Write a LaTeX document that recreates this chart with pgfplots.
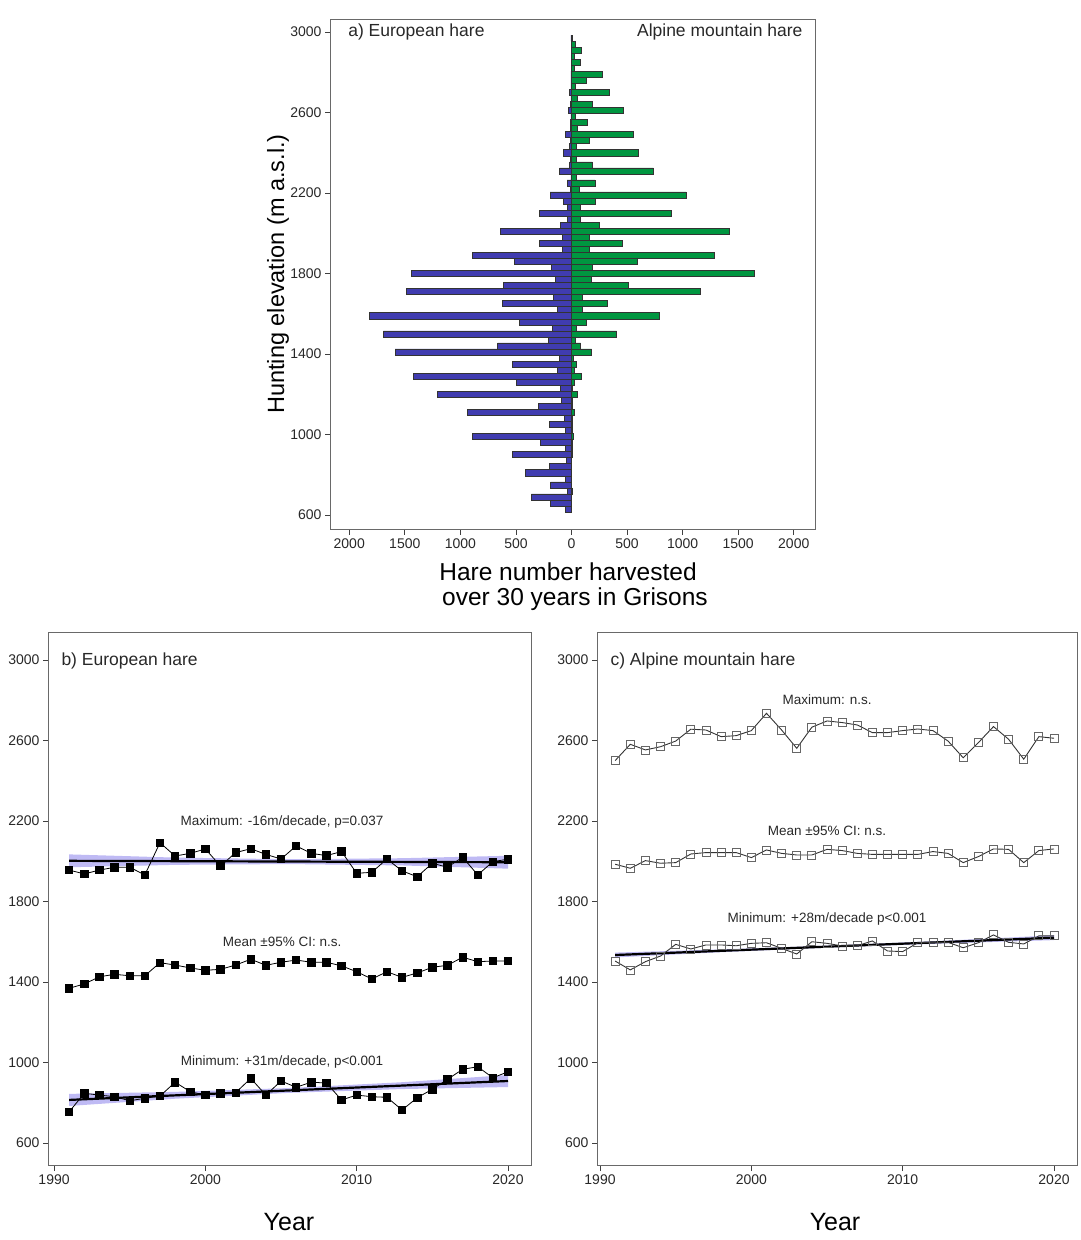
\documentclass[border=0pt]{standalone}
\usepackage{fontspec}
\setmainfont{Liberation Sans}
\usepackage{pgfplots}
\pgfplotsset{compat=1.18}
\usepackage{pgfplotstable}

\definecolor{eublue}{RGB}{64,60,176}
\definecolor{algreen}{RGB}{0,150,64}
\definecolor{band}{RGB}{180,174,242}
\definecolor{framec}{RGB}{105,105,105}
\definecolor{txt}{RGB}{40,40,40}

\pgfplotstableread{
elev eu al
630 58 0
660 188 0
690 361 2
720 35 8
750 188 2
780 52 2
810 416 2
840 197 2
870 44 2
900 530 10
930 52 8
960 278 8
990 892 16
1020 58 10
1050 197 10
1080 64 10
1110 934 25
1140 301 8
1170 94 8
1200 1204 55
1230 103 8
1260 496 25
1290 1420 85
1320 124 25
1350 530 46
1380 112 16
1410 1588 181
1440 664 82
1470 208 37
1500 1693 406
1530 172 46
1560 472 130
1590 1822 787
1620 124 97
1650 619 322
1680 163 97
1710 1489 1162
1740 610 511
1770 145 175
1800 1444 1645
1830 178 190
1860 514 589
1890 892 1285
1920 82 160
1950 292 457
1980 82 160
2010 640 1417
2040 100 250
2070 40 76
2100 286 895
2130 34 82
2160 70 214
2190 193 1031
2220 8 70
2250 40 211
2280 5 46
2310 106 736
2340 20 187
2370 8 40
2400 76 601
2430 16 40
2460 10 157
2490 55 560
2520 8 49
2550 10 140
2580 5 37
2610 31 467
2640 8 190
2670 5 49
2700 20 340
2730 5 37
2760 5 131
2790 5 281
2820 2 25
2850 2 76
2880 2 25
2910 2 91
2940 2 37
2970 5 8
}\hares

\pgfplotstableread{
year max mean min
1991 1956 1369 755
1992 1937 1390 847
1993 1956 1426 838
1994 1970 1438 830
1995 1970 1431 810
1996 1932 1431 822
1997 2092 1496 833
1998 2026 1484 902
1999 2039 1470 855
2000 2061 1458 838
2001 1976 1463 847
2002 2043 1484 850
2003 2062 1513 921
2004 2034 1483 838
2005 2011 1498 908
2006 2076 1509 877
2007 2039 1498 902
2008 2028 1498 898
2009 2048 1480 814
2010 1940 1451 838
2011 1945 1415 830
2012 2011 1451 827
2013 1952 1423 764
2014 1923 1445 825
2015 1990 1473 867
2016 1970 1483 916
2017 2020 1523 966
2018 1932 1501 979
2019 1998 1504 924
2020 2010 1504 954
}\eur

\pgfplotstableread{
year max mean min
1991 2500 1985 1504
1992 2581 1965 1460
1993 2553 2003 1501
1994 2569 1990 1529
1995 2597 1993 1587
1996 2656 2036 1564
1997 2652 2043 1584
1998 2619 2043 1584
1999 2624 2043 1580
2000 2649 2018 1592
2001 2735 2056 1595
2002 2652 2039 1567
2003 2561 2031 1539
2004 2666 2031 1600
2005 2697 2059 1592
2006 2689 2053 1579
2007 2677 2039 1580
2008 2639 2034 1604
2009 2639 2034 1554
2010 2649 2034 1551
2011 2657 2034 1595
2012 2649 2048 1597
2013 2597 2039 1597
2014 2514 1993 1570
2015 2589 2023 1595
2016 2669 2061 1634
2017 2606 2059 1597
2018 2507 1993 1589
2019 2619 2053 1629
2020 2611 2061 1629
}\alp

\tikzset{ann/.style={font=\fontsize{13.5}{16}\selectfont, text=txt}}

\pgfplotsset{
  myaxis/.style={
    scale only axis,
    axis line style={framec, line width=1pt},
    tick align=outside,
    major tick length=5pt,
    tick style={black!75, line width=0.8pt},
    xtick pos=bottom, ytick pos=left,
    tick label style={font=\fontsize{14}{16}\selectfont, text=txt},
    /pgf/number format/assume math mode=true,
    /pgf/number format/1000 sep={},
    clip=false,
  },
  yrax/.style={
    myaxis, width=483pt, height=533pt,
    ymin=485.7, ymax=3134, ytick={600,1000,...,3000},
    xmax=2021.52, xtick={1990,2000,2010,2020},
  },
}

\begin{document}
\begin{tikzpicture}
\useasboundingbox (0,0) rectangle (1080pt,1240pt);

% ---------------- a) ----------------
\begin{axis}[myaxis, at={(330pt,710pt)}, anchor=south west,
  width=485pt, height=510pt,
  xmin=-2173, xmax=2191, ymin=525.5, ymax=3059.6,
  xtick={-2000,-1500,-1000,-500,0,500,1000,1500,2000},
  xticklabels={2000,1500,1000,500,0,500,1000,1500,2000},
  ytick={600,1000,...,3000}]
\addplot[xbar, bar shift=0pt, bar width=30, fill=eublue, draw=black!80, line width=0.5pt]
  table[x expr=-\thisrow{eu}, y=elev] {\hares};
\addplot[xbar, bar shift=0pt, bar width=30, fill=algreen, draw=black!80, line width=0.5pt]
  table[x=al, y=elev] {\hares};
\node[anchor=west, font=\fontsize{17.5}{20}\selectfont, text=txt] at (axis cs:-2040,3000) {a) European hare};
\node[anchor=east, font=\fontsize{17.5}{20}\selectfont, text=txt] at (axis cs:2110,3000) {Alpine mountain hare};
\end{axis}

\node[rotate=90, anchor=base, font=\fontsize{23.5}{28}\selectfont, text=black] at (284pt,966pt) {Hunting elevation (m a.s.l.)};
\node[font=\fontsize{24.5}{28}\selectfont, text=black] at (568pt,668pt) {Hare number harvested};
\node[font=\fontsize{24.5}{28}\selectfont, text=black] at (575pt,641pt) {over 30 years in Grisons};

% ---------------- b) ----------------
\begin{axis}[yrax, at={(48pt,74pt)}, anchor=south west, xmin=1989.6]
\addplot[fill=band, draw=none, opacity=0.85] coordinates {
  (1991,2034) (1998,2018) (2005.5,2010) (2013,2015) (2020,2027)
  (2020,1963) (2013,1979) (2005.5,1986) (1998,1982) (1991,1970)} -- cycle;
\addplot[fill=band, draw=none, opacity=0.85] coordinates {
  (1991,844) (1998,854) (2005.5,873) (2013,902) (2020,938)
  (2020,878) (2013,868) (2005.5,849) (1998,820) (1991,784)} -- cycle;
\addplot[black, line width=2.2pt] coordinates {(1991,2002) (2020,1995)};
\addplot[black, line width=2.2pt] coordinates {(1991,814) (2020,908)};
\addplot[black, line width=0.8pt, mark=square*, mark size=3.7pt] table[x=year, y=max] {\eur};
\addplot[black, line width=0.8pt, mark=square*, mark size=3.7pt] table[x=year, y=mean] {\eur};
\addplot[black, line width=0.8pt, mark=square*, mark size=3.7pt] table[x=year, y=min] {\eur};
\node[anchor=west, font=\fontsize{17.5}{20}\selectfont, text=txt] at (axis cs:1990.26,2995) {b) European hare};
\node[ann] at (axis cs:2005.07,2195) {Maximum: -16m/decade, p=0.037};
\node[ann] at (axis cs:2005.07,1599) {Mean ±95\% CI: n.s.};
\node[ann] at (axis cs:2005.07,1002) {Minimum: +31m/decade, p<0.001};
\end{axis}
\node[font=\fontsize{25}{29}\selectfont, text=black] at (289pt,18pt) {Year};

% ---------------- c) ----------------
\begin{axis}[yrax, at={(597pt,74pt)}, anchor=south west, xmin=1989.8, width=480pt]
\addplot[fill=band, draw=none, opacity=0.85] coordinates {
  (1991,1546) (1998,1562) (2005.5,1582) (2013,1606) (2020,1632)
  (2020,1608) (2013,1592) (2005.5,1572) (1998,1548) (1991,1522)} -- cycle;
\addplot[black, line width=2.2pt] coordinates {(1991,1534) (2020,1620)};
\addplot[black!80, line width=0.9pt, mark=square, mark size=4pt, mark options={black!60, line width=0.8pt}] table[x=year, y=max] {\alp};
\addplot[black!80, line width=0.9pt, mark=square, mark size=4pt, mark options={black!60, line width=0.8pt}] table[x=year, y=mean] {\alp};
\addplot[black!80, line width=0.9pt, mark=square, mark size=4pt, mark options={black!60, line width=0.8pt}] table[x=year, y=min] {\alp};
\node[anchor=west, font=\fontsize{17.5}{20}\selectfont, text=txt] at (axis cs:1990.46,2995) {c) Alpine mountain hare};
\node[ann] at (axis cs:2005,2801) {Maximum: n.s.};
\node[ann] at (axis cs:2005,2150) {Mean ±95\% CI: n.s.};
\node[ann] at (axis cs:2005,1713) {Minimum: +28m/decade p<0.001};
\end{axis}
\node[font=\fontsize{25}{29}\selectfont, text=black] at (835pt,18pt) {Year};
\end{tikzpicture}
\end{document}
